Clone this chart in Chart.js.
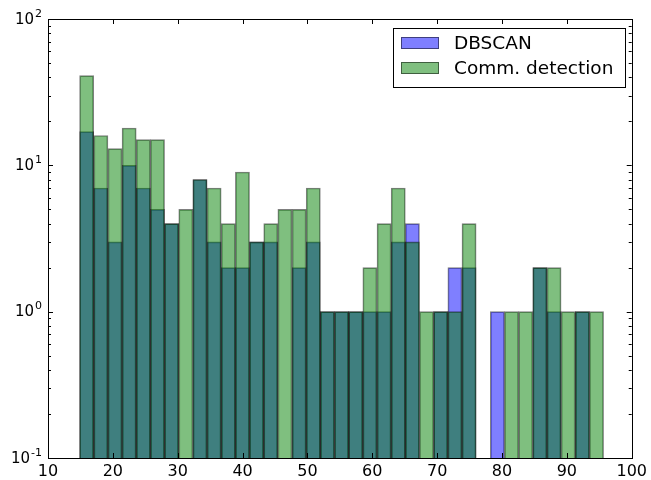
<!DOCTYPE html>
<html>

<head>
    <title>DBSCAN vs community detection</title>
    <script src="https://cdn.jsdelivr.net/npm/chart.js"></script>
    <style>
        body { margin: 0; background: #fff; }
        #wrap { width: 651px; height: 480px; }
    </style>
</head>

<body>
    <div id="wrap"><canvas id="myChart"></canvas></div>

    <script>
        // bin centres of the histogram
        const binCenters = [15.96, 18.15, 20.33, 22.51, 24.70, 26.88, 29.06, 31.25, 33.43, 35.61,
            37.80, 39.98, 42.16, 44.35, 46.53, 48.72, 50.90, 53.08, 55.27, 57.45,
            59.63, 61.82, 64.00, 66.18, 68.37, 70.55, 72.74, 74.92, 77.10, 79.29,
            81.47, 83.65, 85.84, 88.02, 90.20, 92.39, 94.57];

        // counts per bin (null = empty bin)
        const dbscanCounts = [17, 7, 3, 10, 7, 5, 4, null, 8, 3,
            2, 2, 3, 3, null, 2, 3, 1, 1, 1,
            1, 1, 3, 4, null, 1, 2, 2, null, 1,
            null, null, 2, 1, null, 1, null];
        const commCounts = [41, 16, 13, 18, 15, 15, 4, 5, 8, 7,
            4, 9, 3, 4, 5, 5, 7, 1, 1, 1,
            2, 4, 7, 3, 1, 1, 1, 4, null, null,
            1, 1, 2, 2, 1, 1, 1];

        const seriesNames = ['DBSCAN', 'Comm. detection'];
        const xTicks = [10, 20, 30, 40, 50, 60, 70, 80, 90, 100];
        const yMajors = [0.1, 1, 10, 100];
        const yExponents = ['-1', '0', '1', '2'];

        const blueFill = 'rgba(0, 0, 255, 0.5)';
        const greenFill = 'rgba(0, 128, 0, 0.5)';
        const edge = 'rgba(0, 0, 0, 0.5)';
        const FONT = '"DejaVu Sans", sans-serif';

        const toPoints = (vals) => binCenters.map((x, i) => ({ x: x, y: vals[i] }));

        // axes frame, inward ticks, y labels with exponents, legend box
        const decorations = {
            id: 'decorations',
            afterDatasetsDraw(chart) {
                const ctx = chart.ctx;
                const a = chart.chartArea;
                const xs = chart.scales.x;
                const ys = chart.scales.y;
                ctx.save();
                ctx.strokeStyle = '#000';
                ctx.lineWidth = 1;
                ctx.strokeRect(Math.round(a.left) + 0.5, Math.round(a.top) + 0.5,
                    Math.round(a.right - a.left), Math.round(a.bottom - a.top));

                ctx.beginPath();
                xTicks.forEach(v => {
                    const px = Math.round(xs.getPixelForValue(v)) + 0.5;
                    ctx.moveTo(px, a.bottom); ctx.lineTo(px, a.bottom - 5);
                    ctx.moveTo(px, a.top); ctx.lineTo(px, a.top + 5);
                });
                yMajors.forEach(v => {
                    const py = Math.round(ys.getPixelForValue(v)) + 0.5;
                    ctx.moveTo(a.left, py); ctx.lineTo(a.left + 5, py);
                    ctx.moveTo(a.right, py); ctx.lineTo(a.right - 5, py);
                });
                for (let d = 0; d < yMajors.length - 1; d++) {
                    for (let m = 2; m <= 9; m++) {
                        const py = Math.round(ys.getPixelForValue(yMajors[d] * m)) + 0.5;
                        ctx.moveTo(a.left, py); ctx.lineTo(a.left + 3, py);
                        ctx.moveTo(a.right, py); ctx.lineTo(a.right - 3, py);
                    }
                }
                ctx.stroke();

                // y tick labels: 10 with superscript exponent
                ctx.fillStyle = '#000';
                ctx.textAlign = 'right';
                ctx.textBaseline = 'alphabetic';
                yMajors.forEach((v, i) => {
                    const py = ys.getPixelForValue(v);
                    ctx.font = '11px ' + FONT;
                    const ew = ctx.measureText(yExponents[i]).width;
                    ctx.fillText(yExponents[i], 42, py - 2.5);
                    ctx.font = '15px ' + FONT;
                    ctx.fillText('10', 42 - ew - 1, py + 4.5);
                });

                // legend
                const lx = 393, ly = 28, lw = 232, lh = 59;
                ctx.fillStyle = '#fff';
                ctx.fillRect(lx, ly, lw, lh);
                ctx.strokeStyle = '#000';
                ctx.strokeRect(lx + 0.5, ly + 0.5, lw, lh);
                const fills = [blueFill, greenFill];
                seriesNames.forEach((name, i) => {
                    const ry = ly + 9 + i * 25;
                    ctx.fillStyle = fills[i];
                    ctx.fillRect(401, ry, 38, 12);
                    ctx.strokeStyle = edge;
                    ctx.strokeRect(401.5, ry + 0.5, 37, 11);
                    ctx.fillStyle = '#000';
                    ctx.font = '18.5px ' + FONT;
                    ctx.textAlign = 'left';
                    ctx.fillText(name, 454, ry + 12);
                });
                ctx.restore();
            }
        };

        const chart = new Chart('myChart', {
            type: 'bar',
            data: {
                datasets: [
                    {
                        label: seriesNames[0],
                        data: toPoints(dbscanCounts),
                        backgroundColor: blueFill,
                        borderColor: edge,
                        borderWidth: 1,
                        order: 2
                    },
                    {
                        label: seriesNames[1],
                        data: toPoints(commCounts),
                        backgroundColor: greenFill,
                        borderColor: edge,
                        borderWidth: 1,
                        order: 1
                    }
                ]
            },
            options: {
                responsive: true,
                maintainAspectRatio: false,
                animation: false,
                grouped: false,
                barPercentage: 1,
                categoryPercentage: 1,
                layout: { padding: { top: 19, right: 17, left: 0, bottom: 0 } },
                scales: {
                    x: {
                        type: 'linear',
                        min: 10,
                        max: 100,
                        offset: false,
                        grid: { display: false, drawTicks: false },
                        border: { display: false },
                        afterBuildTicks: (s) => { s.ticks = xTicks.map(v => ({ value: v })); },
                        afterFit: (s) => { s.height = 22; },
                        ticks: {
                            color: '#000',
                            padding: 4,
                            maxRotation: 0,
                            autoSkip: false,
                            font: { family: 'DejaVu Sans', size: 16 }
                        }
                    },
                    y: {
                        type: 'logarithmic',
                        min: 0.1,
                        max: 100,
                        grid: { display: false, drawTicks: false },
                        border: { display: false },
                        ticks: { display: false },
                        afterFit: (s) => { s.width = 48; }
                    }
                },
                plugins: {
                    legend: { display: false },
                    tooltip: { enabled: false }
                }
            },
            plugins: [decorations]
        });
    </script>
</body>

</html>
